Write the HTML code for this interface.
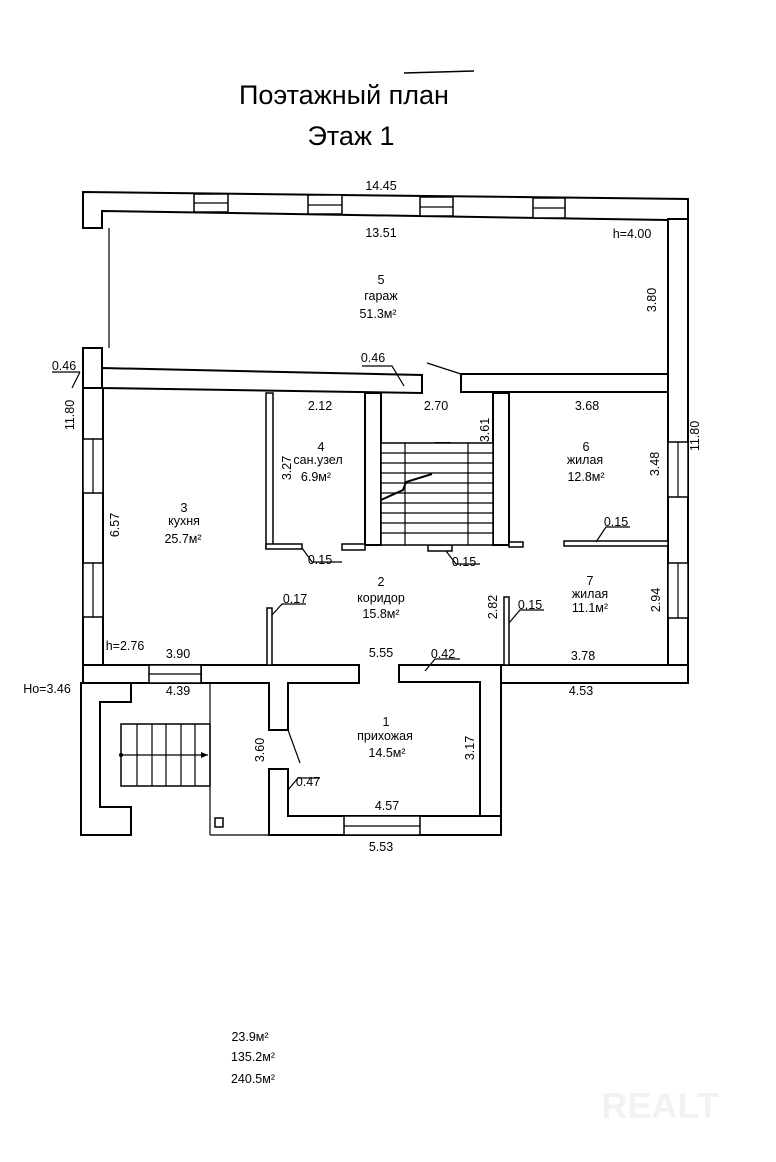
<!DOCTYPE html>
<html><head><meta charset="utf-8"><style>
html,body{margin:0;padding:0;background:#fff;}
svg{display:block;}
text{font-family:"Liberation Sans Narrow","Liberation Sans","DejaVu Sans",sans-serif;font-size:12.5px;fill:#000;}
.t{font-size:27px;}
</style></head><body>
<svg width="776" height="1162" viewBox="0 0 776 1162" xmlns="http://www.w3.org/2000/svg">
<g fill="#fff" stroke="#000" stroke-width="2" stroke-linejoin="miter">
<polygon points="83,192 688,199 688,220 668,220 102,211 102,228 83,228"/>
<rect x="668" y="219" width="20" height="464"/>
<rect x="83" y="348" width="19" height="40"/>
<rect x="83" y="388" width="20" height="295"/>
<polygon points="102,368 422,375 422,393 102,388"/>
<rect x="461" y="374" width="207" height="18"/>
<rect x="83" y="665" width="118" height="18"/>
<polygon points="201,665 359,665 359,683 288,683 288,730 269,730 269,683 201,683"/>
<polygon points="399,665 668,665 668,683 501,683 501,835 480,835 480,682 399,682"/>
<rect x="501" y="665" width="187" height="18"/>
<polygon points="81,683 131,683 131,702 100,702 100,807 131,807 131,835 81,835"/>
<polygon points="269,769 288,769 288,816 501,816 501,835 269,835"/>
<rect x="365" y="393" width="16" height="152"/>
<rect x="493" y="393" width="16" height="152"/>
<rect x="436" y="443" width="14" height="102"/>
</g>
<g fill="#fff" stroke="#000" stroke-width="1.5">
<rect x="194" y="194" width="34" height="18"/><rect x="308" y="195" width="34" height="19"/><rect x="420" y="197" width="33" height="19"/><rect x="533" y="198" width="32" height="20"/>
<rect x="668" y="442" width="20" height="55"/><rect x="668" y="563" width="20" height="55"/>
<rect x="83" y="439" width="20" height="54"/><rect x="83" y="563" width="20" height="54"/>
<rect x="149" y="665" width="52" height="18"/><rect x="344" y="816" width="76" height="19"/>
<rect x="266" y="393" width="7" height="155"/><rect x="266" y="544" width="36" height="5"/>
<rect x="564" y="541" width="104" height="5"/>
<rect x="267" y="608" width="5" height="57"/>
<rect x="504" y="597" width="5" height="68"/>
<rect x="342" y="544" width="23" height="6"/><rect x="428" y="545" width="24" height="6"/><rect x="509" y="542" width="14" height="5"/>
<rect x="381" y="443" width="112" height="102"/>
<rect x="121" y="724" width="89" height="62"/>
<rect x="215" y="818" width="8" height="9"/>
</g>
<g stroke="#000" stroke-width="1.2" fill="none">
<line x1="194" y1="203" x2="228" y2="203"/><line x1="308" y1="205" x2="342" y2="205"/><line x1="420" y1="207" x2="453" y2="207"/><line x1="533" y1="208" x2="565" y2="208"/>
<line x1="678" y1="442" x2="678" y2="497"/><line x1="678" y1="563" x2="678" y2="618"/>
<line x1="93" y1="439" x2="93" y2="493"/><line x1="93" y1="563" x2="93" y2="617"/>
<line x1="149" y1="674" x2="201" y2="674"/><line x1="344" y1="826" x2="420" y2="826"/>
<line x1="109" y1="228" x2="109" y2="348"/>
<line x1="210" y1="683" x2="210" y2="835"/><line x1="210" y1="835" x2="269" y2="835"/>
<line x1="427" y1="363" x2="461" y2="374"/>
<line x1="288" y1="730" x2="300" y2="763"/>
<line x1="121" y1="755" x2="208" y2="755"/>
<line x1="137" y1="724" x2="137" y2="786"/><line x1="152" y1="724" x2="152" y2="786"/><line x1="166" y1="724" x2="166" y2="786"/><line x1="181" y1="724" x2="181" y2="786"/><line x1="195" y1="724" x2="195" y2="786"/>
<path d="M381,453H493M381,463H493M381,473H493M381,483H493M381,493H493M381,503H493M381,513H493M381,523H493M381,533H493"/>
<path d="M405,443V545M468,443V545"/>
<path d="M381,500 L403,490 L406,482 L432,474" stroke-width="2"/>
<path d="M52,372H80M80,372L72,388"/>
<path d="M362,366H392L404,386"/>
<path d="M302,548L312,562H342"/>
<path d="M446,551L456,564H480"/>
<path d="M596,542L606,527H630"/>
<path d="M272,615L282,604H306"/>
<path d="M509,623L520,610H544"/>
<path d="M425,671L435,659H460"/>
<path d="M288,790L298,778H320"/>
</g>
<circle cx="121" cy="755" r="2" fill="#000"/>
<polygon points="208,755 201,752 201,758" fill="#000"/>
<line x1="404" y1="73" x2="474" y2="71" stroke="#000" stroke-width="1.5"/>
<text x="344" y="104" class="t" text-anchor="middle">Поэтажный план</text>
<text x="351" y="145" class="t" text-anchor="middle">Этаж 1</text>
<g text-anchor="middle">
<text x="381" y="190">14.45</text>
<text x="381" y="237">13.51</text>
<text x="632" y="238">h=4.00</text>
<text x="381" y="284">5</text>
<text x="381" y="300">гараж</text>
<text x="378" y="318">51.3м²</text>
<text x="64" y="370">0.46</text>
<text x="373" y="362">0.46</text>
<text x="320" y="410">2.12</text>
<text x="436" y="410">2.70</text>
<text x="587" y="410">3.68</text>
<text x="321" y="451">4</text>
<text x="318" y="464">сан.узел</text>
<text x="316" y="481">6.9м²</text>
<text x="586" y="451">6</text>
<text x="585" y="464">жилая</text>
<text x="586" y="481">12.8м²</text>
<text x="184" y="512">3</text>
<text x="184" y="525">кухня</text>
<text x="183" y="543">25.7м²</text>
<text x="320" y="564">0.15</text>
<text x="464" y="566">0.15</text>
<text x="616" y="526">0.15</text>
<text x="381" y="586">2</text>
<text x="381" y="602">коридор</text>
<text x="381" y="618">15.8м²</text>
<text x="295" y="603">0.17</text>
<text x="530" y="609">0.15</text>
<text x="590" y="585">7</text>
<text x="590" y="598">жилая</text>
<text x="590" y="612">11.1м²</text>
<text x="125" y="650">h=2.76</text>
<text x="178" y="658">3.90</text>
<text x="381" y="657">5.55</text>
<text x="443" y="658">0.42</text>
<text x="583" y="660">3.78</text>
<text x="47" y="693">Ho=3.46</text>
<text x="178" y="695">4.39</text>
<text x="581" y="695">4.53</text>
<text x="386" y="726">1</text>
<text x="385" y="740">прихожая</text>
<text x="387" y="757">14.5м²</text>
<text x="308" y="786">0.47</text>
<text x="387" y="810">4.57</text>
<text x="381" y="851">5.53</text>
<text x="250" y="1041">23.9м²</text>
<text x="253" y="1061">135.2м²</text>
<text x="253" y="1083">240.5м²</text>
</g>
<g text-anchor="middle">
<text transform="translate(656,300) rotate(-90)">3.80</text>
<text transform="translate(74,415) rotate(-90)">11.80</text>
<text transform="translate(699,436) rotate(-90)">11.80</text>
<text transform="translate(489,430) rotate(-90)">3.61</text>
<text transform="translate(291,468) rotate(-90)">3.27</text>
<text transform="translate(659,464) rotate(-90)">3.48</text>
<text transform="translate(119,525) rotate(-90)">6.57</text>
<text transform="translate(497,607) rotate(-90)">2.82</text>
<text transform="translate(660,600) rotate(-90)">2.94</text>
<text transform="translate(264,750) rotate(-90)">3.60</text>
<text transform="translate(474,748) rotate(-90)">3.17</text>
</g>
<text x="660" y="1118" text-anchor="middle" style="font-size:36px;fill:#f2f2f2;font-weight:bold">REALT</text>
</svg>
</body></html>
